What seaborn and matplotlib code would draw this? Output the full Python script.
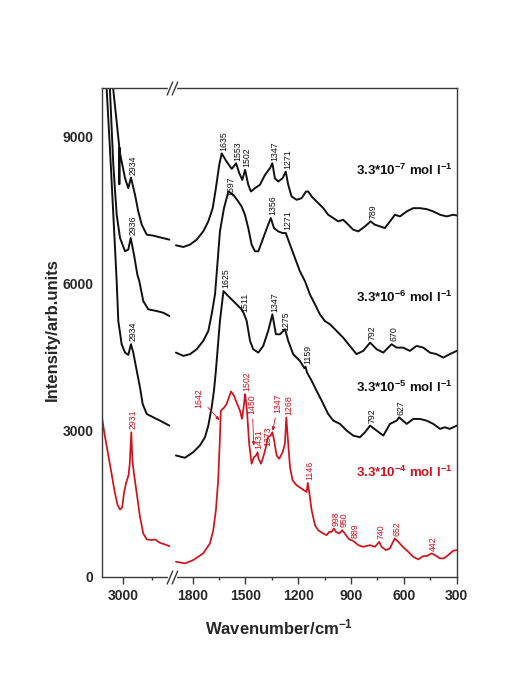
import numpy as np
import pandas as pd
import matplotlib
matplotlib.use("Agg")
import matplotlib.pyplot as plt
from matplotlib.lines import Line2D
import seaborn as sns

# ---- Raman spectra at four concentrations (wavenumber / intensity) ----
# high-wavenumber window (C-H stretch region)
c7_hi_wn = [3120, 3086, 3057, 3036, 3034, 3032, 3028, 2985, 2957, 2934, 2899, 2871, 2841, 2798, 2740, 2684, 2603]
c7_hi_int = [11500, 9955, 9309, 8830, 8030, 8780, 8663, 8155, 7951, 8168, 7816, 7476, 7205, 7001, 6980, 6946, 6899]
c6_hi_wn = [3150, 3115, 3086, 3057, 3028, 2985, 2957, 2936, 2908, 2879, 2862, 2828, 2784, 2712, 2655, 2603]
c6_hi_int = [11500, 9960, 8427, 7408, 6932, 6661, 6695, 6932, 6594, 6186, 6050, 5642, 5473, 5439, 5404, 5337]
c5_hi_wn = [3175, 3143, 3115, 3086, 3057, 3043, 3014, 2985, 2957, 2934, 2914, 2884, 2856, 2833, 2798, 2741, 2684, 2603]
c5_hi_int = [11500, 9960, 8765, 7415, 6050, 5235, 4760, 4589, 4542, 4760, 4589, 4217, 3876, 3538, 3334, 3265, 3198, 3096]
c4_hi_wn = [3186, 3160, 3130, 3100, 3075, 3050, 3028, 3010, 2992, 2975, 2955, 2945, 2931, 2922, 2910, 2884,
            2856, 2828, 2798, 2770, 2755, 2727, 2684, 2641, 2603]
c4_hi_int = [3300, 2900, 2500, 2100, 1750, 1480, 1380, 1420, 1750, 1930, 2080, 2300, 2960, 2400, 2150, 1705,
             1228, 890, 768, 760, 754, 768, 699, 666, 631]

# fingerprint window
c7_lo_wn = [1895, 1853, 1815, 1777, 1740, 1711, 1686, 1668, 1649, 1635, 1607, 1578, 1553, 1535, 1518,
            1502, 1484, 1469, 1446, 1418, 1389, 1361, 1347, 1333, 1314, 1289, 1271, 1257, 1238, 1209,
            1181, 1156, 1143, 1124, 1096, 1058, 1030, 1001, 973, 945, 916, 888, 859, 821, 789,
            765, 736, 708, 679, 651, 622, 584, 547, 509, 471, 433, 395, 357, 320, 300]
c7_lo_int = [6783, 6749, 6797, 6899, 7068, 7272, 7543, 7951, 8427, 8663, 8494, 8346, 8460, 8256, 8121,
             8325, 8020, 7883, 7951, 8020, 8223, 8358, 8460, 8155, 8087, 8155, 8290, 8020, 7781, 7714,
             7747, 7883, 7883, 7781, 7680, 7543, 7408, 7340, 7272, 7306, 7205, 7103, 7068, 7170, 7272,
             7205, 7170, 7136, 7272, 7408, 7374, 7476, 7543, 7543, 7523, 7476, 7408, 7374, 7408, 7394]
c6_lo_wn = [1895, 1853, 1815, 1777, 1740, 1711, 1692, 1673, 1664, 1645, 1622, 1597, 1569, 1541, 1522,
            1503, 1484, 1465, 1446, 1427, 1399, 1371, 1356, 1338, 1314, 1289, 1271, 1247, 1219, 1191,
            1162, 1134, 1105, 1077, 1049, 1020, 982, 945, 907, 869, 831, 792, 755, 717, 670,
            641, 604, 566, 528, 490, 452, 414, 376, 339, 300]
c6_lo_int = [4589, 4522, 4557, 4658, 4828, 5031, 5371, 5779, 6186, 7068, 7543, 7883, 7816, 7680, 7578,
             7408, 7136, 6797, 6661, 6661, 6932, 7205, 7340, 7136, 7068, 7034, 7034, 6797, 6525, 6254,
             6050, 5779, 5575, 5371, 5235, 5168, 5031, 4895, 4726, 4557, 4624, 4793, 4658, 4589, 4760,
             4691, 4691, 4624, 4726, 4691, 4589, 4557, 4487, 4557, 4624]
c5_lo_wn = [1895, 1844, 1797, 1759, 1730, 1711, 1692, 1679, 1668, 1645, 1625, 1588, 1550, 1522, 1511,
            1493, 1474, 1456, 1427, 1399, 1371, 1347, 1327, 1304, 1275, 1257, 1229, 1191, 1165, 1159,
            1150, 1124, 1096, 1067, 1030, 1001, 963, 925, 888, 850, 821, 792, 755, 717, 679,
            641, 627, 584, 547, 509, 471, 433, 395, 367, 339, 300]
c5_lo_int = [2485, 2438, 2552, 2689, 2858, 3096, 3469, 3809, 4217, 5235, 5846, 5710, 5575, 5473, 5405,
             5235, 4828, 4658, 4589, 4726, 5031, 5371, 4964, 4964, 5066, 4828, 4557, 4420, 4270, 4300,
             4180, 4013, 3809, 3605, 3334, 3198, 3131, 2994, 2892, 2858, 2960, 3096, 2994, 2892, 3131,
             3198, 3265, 3131, 3232, 3232, 3198, 3131, 3029, 3062, 3029, 3096]
c4_lo_wn = [1895, 1844, 1797, 1740, 1702, 1683, 1668, 1655, 1645, 1640, 1620, 1607, 1582, 1565, 1547,
            1531, 1520, 1513, 1502, 1497, 1490, 1479, 1465, 1452, 1440, 1431, 1427, 1412, 1399, 1384,
            1373, 1357, 1347, 1337, 1323, 1308, 1289, 1276, 1268, 1257, 1247, 1232, 1209, 1181, 1152,
            1146, 1138, 1124, 1105, 1087, 1058, 1039, 1024, 1010, 998, 986, 967, 950, 929, 910,
            889, 859, 831, 793, 765, 740, 727, 702, 680, 652, 632, 603, 575, 547, 518,
            490, 471, 442, 424, 395, 373, 349, 320, 300]
c4_lo_int = [312, 279, 346, 483, 686, 957, 1365, 1976, 2858, 3400, 3469, 3538, 3795, 3707, 3538,
             3402, 3233, 3402, 3740, 3600, 3334, 2723, 2316, 2450, 2485, 2552, 2438, 2316, 2450, 2654,
             2858, 2892, 2960, 2791, 2485, 2418, 2552, 2723, 3265, 2723, 2247, 1976, 1874, 1807, 1738,
             1925, 1738, 1365, 1059, 957, 890, 856, 923, 923, 992, 923, 890, 957, 856, 768,
             740, 652, 617, 652, 617, 719, 617, 550, 584, 788, 719, 605, 515, 413, 360,
             428, 428, 483, 448, 381, 381, 448, 536, 550]

# concentration captions and assigned band positions
conc_labels = [r"3.3*10$^{-7}$ mol l$^{-1}$", r"3.3*10$^{-6}$ mol l$^{-1}$",
               r"3.3*10$^{-5}$ mol l$^{-1}$", r"3.3*10$^{-4}$ mol l$^{-1}$"]
c7_bands = [2934, 1635, 1553, 1502, 1347, 1271, 789]
c6_bands = [2936, 1597, 1356, 1271, 792, 670]
c5_bands = [2934, 1625, 1511, 1347, 1275, 1159, 792, 627]
c4_bands = [2931, 1502, 1431, 1373, 1268, 1146, 998, 950, 889, 740, 652, 442]
c4_arrow_bands = [1642, 1450, 1347]

yticks = [0, 3000, 6000, 9000]
xticks_hi = [3000]
xticks_lo = [1800, 1500, 1200, 900, 600, 300]

# ---- styling ----
sns.set_theme(style="ticks")
plt.rcParams["font.family"] = ["Liberation Sans", "DejaVu Sans"]
plt.rcParams["mathtext.fontset"] = "custom"
plt.rcParams["mathtext.rm"] = "Liberation Sans"
plt.rcParams["mathtext.bf"] = "Liberation Sans:bold"
plt.rcParams["mathtext.default"] = "bf"

RED = "#d3111c"
BLACK = "#111111"
FRAME = "#3a3a3a"
W, H = 525, 673

fig = plt.figure(figsize=(W / 100, H / 100), dpi=100)
x0, xb, x1 = 101.7, 171.7, 456.7
ytop, ybot = 88, 577
axL = fig.add_axes([x0 / W, 1 - ybot / H, (xb - x0) / W, (ybot - ytop) / H])
axR = fig.add_axes([xb / W, 1 - ybot / H, (x1 - xb) / W, (ybot - ytop) / H])

series = [
    (c7_hi_wn, c7_hi_int, c7_lo_wn, c7_lo_int, BLACK, 1.4),
    (c6_hi_wn, c6_hi_int, c6_lo_wn, c6_lo_int, BLACK, 1.4),
    (c5_hi_wn, c5_hi_int, c5_lo_wn, c5_lo_int, BLACK, 1.4),
    (c4_hi_wn, c4_hi_int, c4_lo_wn, c4_lo_int, RED, 1.25),
]
for hw, hi, lw_, li, col, lw in series:
    sns.lineplot(data=pd.DataFrame({"wn": hw, "I": hi}), x="wn", y="I", ax=axL,
                 color=col, lw=lw, sort=False, estimator=None)
    sns.lineplot(data=pd.DataFrame({"wn": lw_, "I": li}), x="wn", y="I", ax=axR,
                 color=col, lw=lw, sort=False, estimator=None)

axL.set_xlim(3186, 2583)
axR.set_xlim(1919, 300)
for ax in (axL, axR):
    ax.set_ylim(0, 10000)
    ax.set_xlabel("")
    ax.set_ylabel("")
    for s in ax.spines.values():
        s.set_color(FRAME)
        s.set_linewidth(1.0)
    ax.tick_params(axis="x", which="major", direction="out", length=4.8, width=1.0,
                   color=FRAME, pad=4, labelsize=10)
    ax.tick_params(axis="x", which="minor", direction="out", length=2.4, width=1.0, color=FRAME)
    ax.patch.set_alpha(0)

axL.spines["right"].set_visible(False)
axR.spines["left"].set_visible(False)
axL.set_xticks(xticks_hi)
axL.set_xticks([2750], minor=True)
axR.set_xticks(xticks_lo)
axR.set_xticks([1650, 1350, 1050, 750, 450], minor=True)
axL.set_yticks(yticks)
axL.tick_params(axis="y", length=0, pad=6, labelsize=10)
axR.set_yticks([])
for lab in axL.get_xticklabels() + axR.get_xticklabels() + axL.get_yticklabels():
    lab.set_fontweight("bold")

# ---- band labels ----
def curve_at(wn_arr, int_arr, w):
    return np.interp(w, wn_arr[::-1], int_arr[::-1])

special = {("c6", 1597): (1.5, -3.0), ("c4", 1373): (0.2, -6.0), ("c4", 1431): (0.6, 2.5),
           ("c5", 1275): (0.8, -1.0), ("c5", 1511): (1.0, 0.5)}

def band_labels(tag, bands, hw, hi, lw_, li, col):
    for b in bands:
        if b > 2000:
            ax, y = axL, curve_at(hw, hi, b)
        else:
            ax, y = axR, curve_at(lw_, li, b)
        dx, dy = special.get((tag, b), (1.5, 2.0))
        ax.annotate(str(b), xy=(b, y), xytext=(dx, dy), textcoords="offset points",
                    rotation=90, ha="center", va="bottom", fontsize=6.3, color=col)

band_labels("c7", c7_bands, c7_hi_wn, c7_hi_int, c7_lo_wn, c7_lo_int, BLACK)
band_labels("c6", c6_bands, c6_hi_wn, c6_hi_int, c6_lo_wn, c6_lo_int, BLACK)
band_labels("c5", c5_bands, c5_hi_wn, c5_hi_int, c5_lo_wn, c5_lo_int, BLACK)
band_labels("c4", c4_bands, c4_hi_wn, c4_hi_int, c4_lo_wn, c4_lo_int, RED)

arrow_offsets = {1642: (-15.3, 17.0, 1.0), 1450: (-1.5, 37.7, 8.0), 1347: (4.2, 20.7, 1.0)}
for b in c4_arrow_bands:
    dx, dy, shrink = arrow_offsets[b]
    axR.annotate(str(b), xy=(b, curve_at(c4_lo_wn, c4_lo_int, b)), xytext=(dx, dy),
                 textcoords="offset points", rotation=90, ha="center", va="center",
                 fontsize=6.3, color=RED,
                 arrowprops=dict(arrowstyle="-|>,head_length=0.35,head_width=0.15",
                                 color=RED, lw=0.6, shrinkA=1, shrinkB=shrink))

# concentration captions
caption_y = [0.832, 0.571, 0.387, 0.213]
for txt, yy, col in zip(conc_labels, caption_y, [BLACK, BLACK, BLACK, RED]):
    axR.text(0.984, yy, txt, transform=axR.transAxes, ha="right", va="center",
             fontsize=9.5, fontweight="bold", color=col)

# axis titles
fig.text(279 / W, 1 - 627 / H, r"Wavenumber/cm$^{-1}$", ha="center", va="center",
         fontsize=12, fontweight="bold")
fig.text(52 / W, 1 - 330 / H, "Intensity/arb.units", ha="center", va="center",
         rotation=90, fontsize=12, fontweight="bold")

# axis break marks on top and bottom frame
for ys in (ytop, ybot):
    gap = Line2D([(xb - 3) / W, (xb + 3) / W], [1 - ys / H, 1 - ys / H],
                 transform=fig.transFigure, color="white", lw=2.5, zorder=5)
    fig.add_artist(gap)
    for xs in (xb - 4.5, xb + 0.5):
        fig.add_artist(Line2D([xs / W, (xs + 5.5) / W], [1 - (ys + 7) / H, 1 - (ys - 6) / H],
                              transform=fig.transFigure, color=FRAME, lw=1.0, zorder=6))

fig.savefig("out.png", dpi=100)
